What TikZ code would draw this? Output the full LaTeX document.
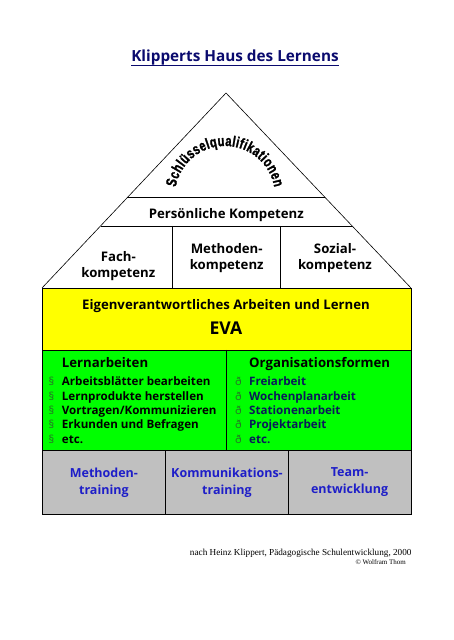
\documentclass[tikz,border=0pt]{standalone}
\usepackage{fontspec}
\setmainfont{Open Sans}
\newfontfamily\arcfont[FakeStretch=0.74, FakeBold=1.5]{Liberation Sans}
\newfontfamily\timesfont{Liberation Serif}
\usetikzlibrary{calc,decorations.text}
\definecolor{evayellow}{RGB}{255,255,0}
\definecolor{evagreen}{RGB}{0,255,0}
\definecolor{evagray}{RGB}{192,192,192}
\definecolor{titlenavy}{RGB}{10,10,110}
\definecolor{trainblue}{RGB}{30,30,200}
\definecolor{orgnavy}{RGB}{10,25,90}
\definecolor{bulletgreen}{RGB}{40,110,40}
\tikzset{
  lbl/.style={inner sep=0pt, font=\fontsize{13.2}{15.5}\selectfont\bfseries, align=center},
  head/.style={inner sep=0pt, anchor=base west, font=\fontsize{13.2}{15}\selectfont\bfseries},
  item/.style={inner sep=0pt, anchor=base west, font=\fontsize{11.6}{13}\selectfont\bfseries},
  bul/.style={inner sep=0pt, anchor=base west, font=\fontsize{11}{13}\selectfont, text=bulletgreen},
  train/.style={inner sep=0pt, font=\fontsize{12.5}{17}\selectfont\bfseries, align=center, text=trainblue},
  frame/.style={draw=black, line width=0.6pt}
}
\begin{document}
\begin{tikzpicture}[x=1pt,y=1pt]
\useasboundingbox (0,0) rectangle (453,640);
% roof
\coordinate (apex) at (226,547);
\coordinate (bl) at (42,352);
\coordinate (br) at (411,352);
\coordinate (l1) at ($(apex)!0.537!(bl)$);
\coordinate (r1) at ($(apex)!0.537!(br)$);
\coordinate (l2) at ($(apex)!0.682!(bl)$);
\coordinate (r2) at ($(apex)!0.682!(br)$);
\coordinate (d1t) at (172.7,414);
\coordinate (d1b) at (172.7,352);
\coordinate (d2t) at (280,414);
\coordinate (d2b) at (280,352);
% boxes
\fill[evayellow] (42,352) rectangle (411,290);
\fill[evagreen] (42,290) rectangle (411,189.3);
\fill[evagray] (42,189.3) rectangle (411,126);
\draw[frame] (bl) -- (apex) -- (br);
\draw[frame] (l1) -- (r1);
\draw[frame] (l2) -- (r2);
\draw[frame] (d1t) -- (d1b);
\draw[frame] (d2t) -- (d2b);
\draw[frame] (42,352) rectangle (411,126);
\draw[frame] (42,290) -- (411,290);
\draw[frame] (42,189.3) -- (411,189.3);
\draw[frame] (226.7,290) -- (226.7,189.3);
\draw[frame] (165.7,189.3) -- (165.7,126);
\draw[frame] (288.3,189.3) -- (288.3,126);
% title
\node[inner sep=0pt, anchor=base, font=\fontsize{15.3}{17}\selectfont\bfseries, text=titlenavy] (title) at (235,578) {Klipperts Haus des Lernens};
\draw[titlenavy, line width=1.1pt] ($(title.base west)+(0,-3.5)$) -- ($(title.base east)+(0,-3.5)$);
% arc text
\path[decorate, decoration={text along path, text align={fit to path},
  text={|\arcfont\fontsize{15}{15}\selectfont\bfseries|Schlüsselqualifikationen}}]
  (225,444) ++(170:50) arc[start angle=170, end angle=10, radius=50];
% labels
\node[lbl] (pers) at (226.3,425) {Persönliche Kompetenz};
\node[lbl] (fach) at (118.3,374) {Fach-\\kompetenz};
\node[lbl] (meth) at (226.7,382) {Methoden-\\kompetenz};
\node[lbl] (soz) at (335,382) {Sozial-\\kompetenz};
\node[lbl] (eigen) at (226,334) {Eigenverantwortliches Arbeiten und Lernen};
\node[inner sep=0pt, font=\fontsize{17.6}{19}\selectfont\bfseries] (eva) at (226,312) {EVA};
% columns
\node[head] (lern) at (61.7,272) {Lernarbeiten};
\node[head] (org) at (249,272) {Organisationsformen};
\foreach \t [count=\i] in {Arbeitsblätter bearbeiten, Lernprodukte herstellen, Vortragen/Kommunizieren, Erkunden und Befragen, etc.}{
  \node[bul] (lb\i) at (48.5,{258.3-(\i-1)*14.3-4.3}) {§};
  \node[item] (li\i) at (61.7,{258.3-(\i-1)*14.3-4.3}) {\t};
}
\foreach \t [count=\i] in {Freiarbeit, Wochenplanarbeit, Stationenarbeit, Projektarbeit, etc.}{
  \node[bul] (rb\i) at (235,{258.3-(\i-1)*14.3-4.3}) {ð};
  \node[item, text=orgnavy] (ri\i) at (249,{258.3-(\i-1)*14.3-4.3}) {\t};
}
% training
\node[train] (mt) at (103.9,157.5) {Methoden-\\training};
\node[train] (kt) at (227,157.5) {Kommunikations-\\training};
\node[train] (tt) at (349.6,157.5) {Team-\\entwicklung};
% footer
\node[inner sep=0pt, anchor=base east, font=\timesfont\fontsize{9.2}{10}\selectfont] (src) at (411.7,84.5) {nach Heinz Klippert, Pädagogische Schulentwicklung, 2000};
\node[inner sep=0pt, anchor=base east, font=\timesfont\fontsize{7}{8}\selectfont] (copy) at (406,75) {© Wolfram Thom};
\end{tikzpicture}
\end{document}
